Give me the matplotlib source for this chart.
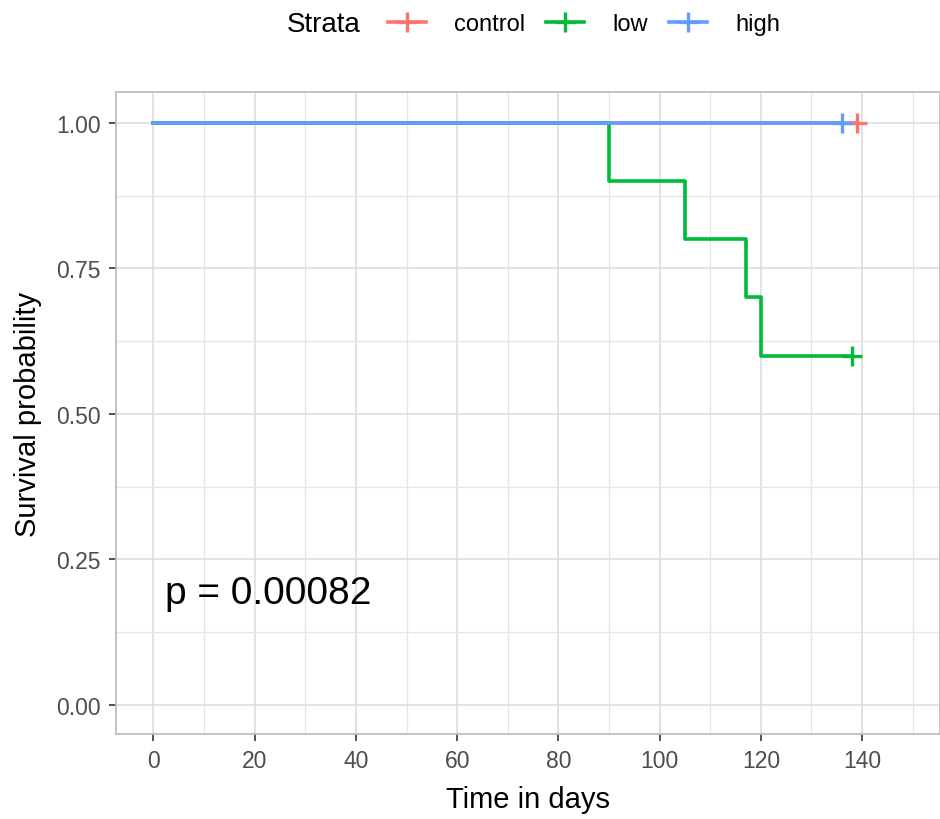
import matplotlib.pyplot as plt
from matplotlib.lines import Line2D

plt.rcParams['font.family'] = ['Liberation Sans', 'DejaVu Sans']

# Kaplan-Meier step curves per stratum
strata = ["control", "low", "high"]
colors = ["#F8766D", "#00BA38", "#619CFF"]

control_time = [0, 139]
control_surv = [1.0, 1.0]
low_time = [0, 90, 105, 117, 120, 138]
low_surv = [1.0, 0.9, 0.8, 0.7, 0.6, 0.6]
high_time = [0, 136]
high_surv = [1.0, 1.0]

# censoring marks (time, survival)
censor_control = ([139], [1.0])
censor_low = ([138], [0.6])
censor_high = ([136], [1.0])

p_label = "p = 0.00082"

fig = plt.figure(figsize=(9.4, 8.2), dpi=100)
ax = fig.add_axes([0.1234, 0.1037, 0.8766, 0.7829])

curves = [(control_time, control_surv, censor_control),
          (low_time, low_surv, censor_low),
          (high_time, high_surv, censor_high)]
for (t, s, cens), col in zip(curves, colors):
    ax.step(t, s, where="post", color=col, lw=2.6, zorder=3)
    ax.plot(cens[0], cens[1], linestyle="none", marker="+", color=col,
            markersize=14, markeredgewidth=2.4, zorder=4)

ax.text(2.2, 0.193, p_label, fontsize=28, color="black", ha="left", va="center")

ax.set_xlim(-7.4, 155.4)
ax.set_ylim(-0.05, 1.053)
ax.set_xticks(range(0, 141, 20))
ax.set_xticks(range(10, 151, 20), minor=True)
ax.set_yticks([0, 0.25, 0.5, 0.75, 1.0])
ax.set_yticklabels(["0.00", "0.25", "0.50", "0.75", "1.00"])
ax.set_yticks([0.125, 0.375, 0.625, 0.875], minor=True)

ax.grid(which="major", color="#DEDEDE", lw=1.2)
ax.grid(which="minor", color="#E6E6E6", lw=1.0)
ax.set_axisbelow(True)
for sp in ax.spines.values():
    sp.set_color("#BDBDBD")
    sp.set_linewidth(1.3)

ax.tick_params(which="major", length=5, width=1.2, color="#333333",
               labelsize=16.5, labelcolor="#4D4D4D", pad=6)
ax.tick_params(which="minor", length=0)

ax.set_xlabel("Time in days", fontsize=21, labelpad=9)
ax.set_ylabel("Survival probability", fontsize=21, labelpad=10)

# legend on top
handles = [Line2D([0], [0], color=c, lw=2.6, marker="+", markersize=15,
                  markeredgewidth=2.4) for c in colors]
fig.text(287 / 940, 1 - 25 / 820, "Strata", fontsize=20, ha="left", va="center")
fig.legend(handles, strata, loc="center left", bbox_to_anchor=(388 / 940, 1 - 25 / 820),
           ncol=3, frameon=False, fontsize=17, handlelength=1.6,
           handletextpad=1.2, columnspacing=0.9, borderaxespad=0, borderpad=0)

fig.savefig("out.png", dpi=100)
